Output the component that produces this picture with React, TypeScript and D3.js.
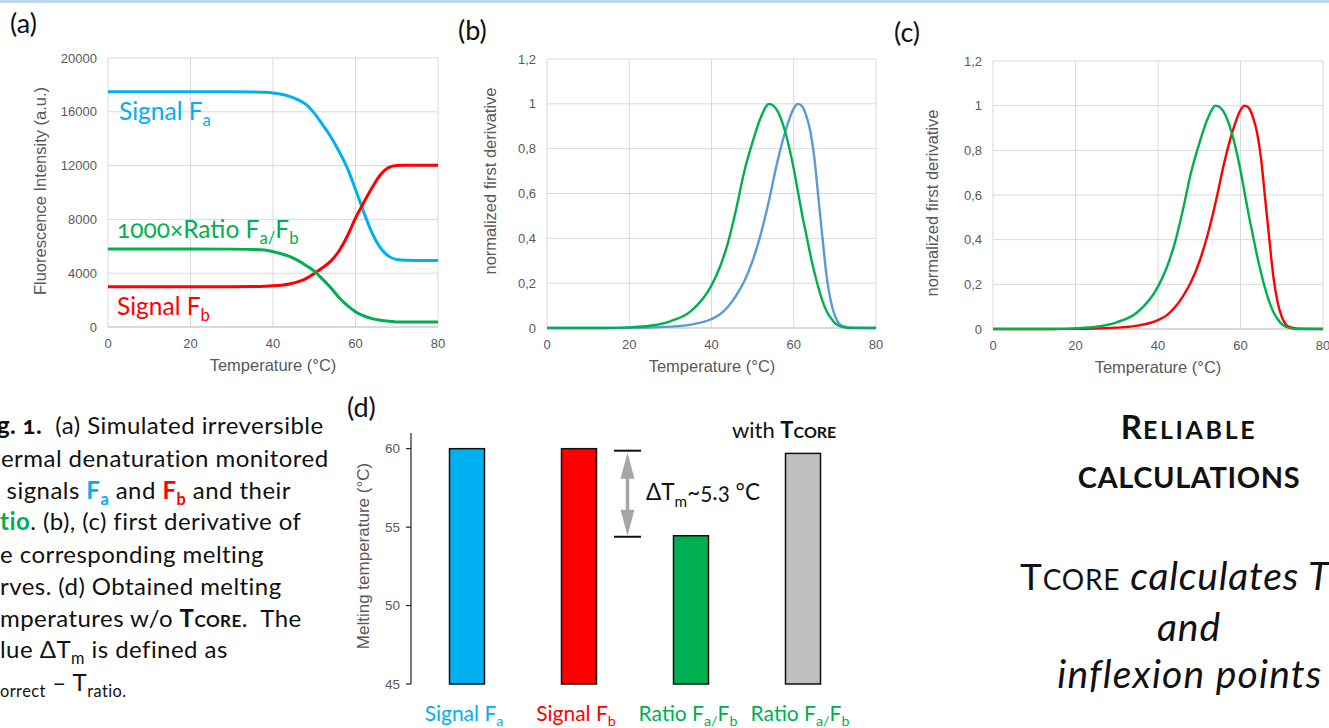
import React from "react";
import * as d3 from "d3";

// ---------- DATA ----------
const TEMP_A = [0, 10, 20, 30, 35, 38, 40, 42, 44, 46, 48, 50, 52, 54, 56, 58, 60, 62, 64, 66, 68, 70, 72, 75, 80];
const SIGNAL_FA = [17500, 17500, 17500, 17500, 17480, 17450, 17400, 17300, 17150, 16900, 16550, 15900, 15050, 14150, 13070, 11830, 10220, 8550, 7000, 5900, 5270, 5020, 4960, 4950, 4950];
const SIGNAL_FB = [3000, 3000, 3000, 3000, 3010, 3030, 3060, 3110, 3200, 3350, 3600, 3980, 4400, 4900, 5650, 6750, 8100, 9250, 10350, 11300, 11850, 12000, 12020, 12020, 12020];
const RATIO_X1000 = [5800, 5800, 5800, 5790, 5770, 5720, 5600, 5450, 5250, 4950, 4580, 4160, 3560, 2920, 2200, 1610, 1140, 820, 620, 500, 420, 380, 370, 370, 370];

const TEMP_D = [0, 10, 14, 20, 25, 30, 35, 40, 42, 44, 46, 48, 50, 52, 54, 56, 58, 60, 61, 62, 63, 64, 65, 66, 67, 68, 69, 70, 71, 72, 74, 80];
const DERIV_RATIO = [0, 0, 0, 0.003, 0.01, 0.03, 0.075, 0.19, 0.27, 0.38, 0.53, 0.7, 0.83, 0.94, 1.0, 0.97, 0.87, 0.71, 0.61, 0.51, 0.42, 0.33, 0.25, 0.18, 0.12, 0.075, 0.045, 0.022, 0.01, 0.004, 0, 0];
const DERIV_SIGNAL = [0, 0, 0, 0.001, 0.002, 0.006, 0.015, 0.04, 0.06, 0.095, 0.145, 0.21, 0.3, 0.42, 0.57, 0.74, 0.88, 0.98, 1.0, 0.99, 0.95, 0.88, 0.76, 0.58, 0.4, 0.23, 0.12, 0.055, 0.02, 0.008, 0.001, 0];

const X_TICKS = [0, 20, 40, 60, 80];
const Y_TICKS_A = [0, 4000, 8000, 12000, 16000, 20000];
const Y_TICKS_D = [0, 0.2, 0.4, 0.6, 0.8, 1, 1.2];

const BAR_CATS = ["fa", "fb", "ratio", "tcore"];
const BAR_TM = [60, 60, 54.45, 59.7];
const BAR_COLORS = ["#00b0f0", "#ff0000", "#00b050", "#bfbfbf"];
const BAR_TICKS = [45, 50, 55, 60];

const BLUE = "#00b0f0";
const RED = "#ff0000";
const GREEN = "#00b050";
const DBLUE = "#5b9bd5";
const GRAY_TXT = "#595959";
const GRID = "#d9d9d9";
const SANS = "'Liberation Sans', Arial, sans-serif";
const HUM = "Lato, 'Open Sans', sans-serif";

type Seg = { t: string; sub?: boolean; b?: boolean; i?: boolean; fill?: string; fs?: number; ls?: number };

function Rich(props: {
  x: number; y: number; segs: Seg[]; fs: number; anchor?: string; fill?: string; subShift?: number; family?: string; weight?: string; ls?: number;
}) {
  const { x, y, segs, fs, anchor = "start", fill = "#111", subShift = fs * 0.28, family = HUM, weight, ls } = props;
  let cur = 0;
  return (
    <text x={x} y={y} fontSize={fs} textAnchor={anchor} fill={fill} fontFamily={family} fontWeight={weight}
      letterSpacing={ls} xmlSpace="preserve" style={{ whiteSpace: "pre", fontVariantNumeric: "oldstyle-nums" }}>
      {segs.map((s, k) => {
        const target = s.sub ? subShift : 0;
        const dy = target - cur;
        cur = target;
        return (
          <tspan key={k} dy={dy} fontSize={s.sub ? fs * 0.68 : s.fs} fontWeight={s.b ? "bold" : undefined}
            fontStyle={s.i ? "italic" : undefined} fill={s.fill} letterSpacing={s.ls}>
            {s.t}
          </tspan>
        );
      })}
    </text>
  );
}

type Series = { x: number[]; y: number[]; color: string; w: number };

function LineChart(props: {
  left: number; right: number; top: number; bottom: number;
  yDomain: [number, number]; yTicks: number[]; yFmt: (v: number) => string;
  series: Series[]; yTitle: string; yTitleX: number; yTitleY: number; xTitleX: number;
}) {
  const { left, right, top, bottom, yDomain, yTicks, yFmt, series, yTitle, yTitleX, yTitleY, xTitleX } = props;
  const x = d3.scaleLinear().domain([0, 80]).range([left, right]);
  const y = d3.scaleLinear().domain(yDomain).range([bottom, top]);
  return (
    <g>
      {yTicks.map((t) => (
        <line key={"h" + t} x1={left} x2={right} y1={y(t)} y2={y(t)} stroke={GRID} strokeWidth={1} />
      ))}
      {X_TICKS.map((t) => (
        <line key={"v" + t} x1={x(t)} x2={x(t)} y1={top} y2={bottom} stroke={GRID} strokeWidth={1} />
      ))}
      <line x1={left} x2={right} y1={bottom} y2={bottom} stroke="#c8c8c8" strokeWidth={1} />
      {yTicks.map((t) => (
        <text key={"yl" + t} x={left - 11} y={y(t)} dy="0.35em" textAnchor="end" fontSize={13} fill={GRAY_TXT} fontFamily={SANS}>
          {yFmt(t)}
        </text>
      ))}
      {X_TICKS.map((t) => (
        <text key={"xl" + t} x={x(t)} y={bottom + 21} textAnchor="middle" fontSize={13} fill={GRAY_TXT} fontFamily={SANS}>
          {t}
        </text>
      ))}
      <text x={xTitleX} y={bottom + 44} textAnchor="middle" fontSize={16.5} fill={GRAY_TXT} fontFamily={SANS}>
        Temperature (°C)
      </text>
      <text transform={`translate(${yTitleX},${yTitleY}) rotate(-90)`} dy="0.35em" textAnchor="middle" fontSize={16.5} fill={GRAY_TXT} fontFamily={SANS}>
        {yTitle}
      </text>
      {series.map((s, k) => {
        const pts = s.x.map((v, i) => [v, s.y[i]] as [number, number]);
        const gen = d3.line<[number, number]>().x((d) => x(d[0])).y((d) => y(d[1])).curve(d3.curveMonotoneX);
        return <path key={k} d={gen(pts) || ""} fill="none" stroke={s.color} strokeWidth={s.w} strokeLinejoin="round" />;
      })}
    </g>
  );
}

function BarPanel() {
  const axisX = 411;
  const xb = d3.scaleBand<string>().domain(BAR_CATS).range([axisX, 859]).paddingInner(0.6875).paddingOuter(0.34375);
  const y = d3.scaleLinear().domain([45, 61]).range([684, 433]);
  const labels: Seg[][] = [
    [{ t: "Signal F" }, { t: "a", sub: true }],
    [{ t: "Signal F" }, { t: "b", sub: true }],
    [{ t: "Ratio F" }, { t: "a", sub: true }, { t: "/", sub: true }, { t: "F" }, { t: "b", sub: true }],
    [{ t: "Ratio F" }, { t: "a", sub: true }, { t: "/", sub: true }, { t: "F" }, { t: "b", sub: true }],
  ];
  const labelColors = [BLUE, RED, GREEN, GREEN];
  const ax = xb("fb")! + xb.bandwidth() + 17.5 + 13.5;
  const yTop = y(BAR_TM[1]) + 2;
  const yBot = y(BAR_TM[2]) + 1;
  return (
    <g>
      <line x1={axisX} x2={axisX} y1={y(61)} y2={y(45)} stroke="#222" strokeWidth={1.2} />
      {BAR_TICKS.map((t) => (
        <g key={t}>
          <line x1={axisX - 5} x2={axisX} y1={y(t)} y2={y(t)} stroke="#222" strokeWidth={1.2} />
          <text x={axisX - 11} y={y(t)} dy="0.35em" textAnchor="end" fontSize={13.5} fill={GRAY_TXT} fontFamily={SANS}>{t}</text>
        </g>
      ))}
      <text transform={`translate(${363},${556}) rotate(-90)`} dy="0.35em" textAnchor="middle" fontSize={17} fill={GRAY_TXT} fontFamily={SANS}>
        Melting temperature (°C)
      </text>
      {BAR_CATS.map((c, i) => (
        <rect key={c} x={xb(c)} y={y(BAR_TM[i])} width={xb.bandwidth()} height={y(45) - y(BAR_TM[i])}
          fill={BAR_COLORS[i]} stroke="#111" strokeWidth={1.5} />
      ))}
      {BAR_CATS.map((c, i) => (
        <Rich key={"l" + c} x={xb(c)! + xb.bandwidth() / 2 - 3} y={721} fs={21} anchor="middle" fill={labelColors[i]} segs={labels[i]} subShift={5} />
      ))}
      {/* delta annotation */}
      <line x1={ax - 13.5} x2={ax + 13.5} y1={yTop} y2={yTop} stroke="#111" strokeWidth={2} />
      <line x1={ax - 13.5} x2={ax + 13.5} y1={yBot} y2={yBot} stroke="#111" strokeWidth={2} />
      <line x1={ax} x2={ax} y1={yTop + 20} y2={yBot - 20} stroke="#a6a6a6" strokeWidth={3.5} />
      <path d={`M${ax},${yTop + 2}L${ax - 7},${yTop + 28}L${ax + 7},${yTop + 28}Z`} fill="#a6a6a6" />
      <path d={`M${ax},${yBot - 1}L${ax - 7},${yBot - 27}L${ax + 7},${yBot - 27}Z`} fill="#a6a6a6" />
      <Rich x={646} y={500} fs={22.5} segs={[{ t: "ΔT" }, { t: "m", sub: true }, { t: "~5.3 °C" }]} subShift={7} />
      <Rich x={732} y={438} fs={22} segs={[{ t: "with " }, { t: "T", b: true }, { t: "CORE", b: true, fs: 16 }]} />
    </g>
  );
}

function Caption() {
  const fs = 24;
  const ls = 0.45;
  const lines: { y: number; pre: Seg[]; x: number; segs: Seg[] }[] = [
    { y: 434, pre: [{ t: "Fi", b: true }], x: -3, segs: [{ t: "g. 1.", b: true }, { t: "  (a) Simulated irreversible" }] },
    { y: 467, pre: [{ t: "th" }], x: 1, segs: [{ t: "ermal denaturation monitored" }] },
    { y: 499, pre: [{ t: "by" }], x: 0, segs: [{ t: " signals " }, { t: "F", b: true, fill: BLUE }, { t: "a", sub: true, b: true, fill: BLUE }, { t: " and " }, { t: "F", b: true, fill: RED }, { t: "b", sub: true, b: true, fill: RED }, { t: " and their" }] },
    { y: 530, pre: [{ t: "ra", b: true, fill: GREEN }], x: 0, segs: [{ t: "tio", b: true, fill: GREEN }, { t: ". (b), (c) first derivative of" }] },
    { y: 563, pre: [{ t: "th" }], x: 0, segs: [{ t: "e corresponding melting" }] },
    { y: 595, pre: [{ t: "cu" }], x: 0, segs: [{ t: "rves. (d) Obtained melting" }] },
    { y: 627, pre: [{ t: "te" }], x: 0, segs: [{ t: "mperatures w/o " }, { t: "T", b: true }, { t: "CORE", b: true, fs: 17 }, { t: ".  The" }] },
    { y: 658, pre: [{ t: "va" }], x: 0, segs: [{ t: "lue ΔT" }, { t: "m", sub: true }, { t: " is defined as" }] },
    { y: 691, pre: [{ t: "T" }, { t: "c", sub: true }], x: 0, segs: [{ t: "orrect", sub: true }, { t: " – T" }, { t: "ratio.", sub: true }] },
  ];
  return (
    <g>
      {lines.map((l, k) => (
        <g key={k}>
          <Rich x={l.x} y={l.y} fs={fs} ls={ls} anchor="end" segs={l.pre} subShift={6} />
          <Rich x={l.x} y={l.y} fs={fs} ls={ls} segs={l.segs} subShift={6} />
        </g>
      ))}
    </g>
  );
}

function RightText() {
  const cx = 1189;
  return (
    <g>
      <Rich x={cx} y={439} fs={33} anchor="middle" weight="bold" segs={[{ t: "R", ls: 1 }, { t: "ELIABLE", fs: 25, ls: 2.6 }]} />
      <Rich x={cx} y={488} fs={29} ls={0.6} anchor="middle" weight="bold" segs={[{ t: "CALCULATIONS" }]} />
      <Rich x={1020} y={590} fs={37} ls={0.8} segs={[{ t: "T" }, { t: "CORE", fs: 28 }, { t: " calculates T", i: true, fs: 39 }]} />
      <Rich x={cx} y={641} fs={39} ls={1} anchor="middle" segs={[{ t: "and", i: true }]} />
      <Rich x={1190} y={688} fs={39} ls={1.2} anchor="middle" segs={[{ t: "inflexion points", i: true }]} />
    </g>
  );
}

export default function App() {
  const fmtComma = (v: number) => String(+v.toFixed(1)).replace(".", ",");
  return (
    <svg width={1329} height={728} style={{ position: "fixed", left: 0, top: 0, background: "#fff" }}>
      <rect x={0} y={0} width={1329} height={728} fill="#fff" />
      <rect x={0} y={0} width={1329} height={3} fill="#bdd7ee" />
      {/* panel labels */}
      <text x={10} y={33} fontSize={27} fontFamily={HUM} fill="#111">(a)</text>
      <text x={458} y={40} fontSize={27} fontFamily={HUM} fill="#111">(b)</text>
      <text x={894} y={42} fontSize={27} fontFamily={HUM} fill="#111">(c)</text>
      <text x={347} y={417} fontSize={27} fontFamily={HUM} fill="#111">(d)</text>

      <LineChart left={108} right={438} top={58} bottom={327} yDomain={[0, 20000]} yTicks={Y_TICKS_A} yFmt={(v) => String(v)}
        yTitle="Fluorescence Intensity (a.u.)" yTitleX={40} yTitleY={191} xTitleX={273}
        series={[
          { x: TEMP_A, y: SIGNAL_FA, color: BLUE, w: 3 },
          { x: TEMP_A, y: SIGNAL_FB, color: RED, w: 3 },
          { x: TEMP_A, y: RATIO_X1000, color: GREEN, w: 3 },
        ]} />
      <Rich x={119} y={120} fs={24.5} fill={BLUE} segs={[{ t: "Signal F" }, { t: "a", sub: true }]} subShift={6} />
      <Rich x={117} y={238} fs={24.5} fill={GREEN} segs={[{ t: "1000×Ratio F" }, { t: "a", sub: true }, { t: "/", sub: true }, { t: "F" }, { t: "b", sub: true }]} subShift={6} />
      <Rich x={117} y={315} fs={24.5} fill={RED} segs={[{ t: "Signal F" }, { t: "b", sub: true }]} subShift={6} />

      <LineChart left={547} right={876} top={59} bottom={328} yDomain={[0, 1.2]} yTicks={Y_TICKS_D} yFmt={fmtComma}
        yTitle="normalized first derivative" yTitleX={490} yTitleY={181} xTitleX={712}
        series={[
          { x: TEMP_D, y: DERIV_SIGNAL, color: DBLUE, w: 2.4 },
          { x: TEMP_D, y: DERIV_RATIO, color: GREEN, w: 2.4 },
        ]} />
      <LineChart left={993} right={1323} top={61} bottom={329} yDomain={[0, 1.2]} yTicks={Y_TICKS_D} yFmt={fmtComma}
        yTitle="normalized first derivative" yTitleX={932} yTitleY={203} xTitleX={1158}
        series={[
          { x: TEMP_D, y: DERIV_SIGNAL, color: RED, w: 2.4 },
          { x: TEMP_D, y: DERIV_RATIO, color: GREEN, w: 2.4 },
        ]} />

      <BarPanel />
      <Caption />
      <RightText />
    </svg>
  );
}
